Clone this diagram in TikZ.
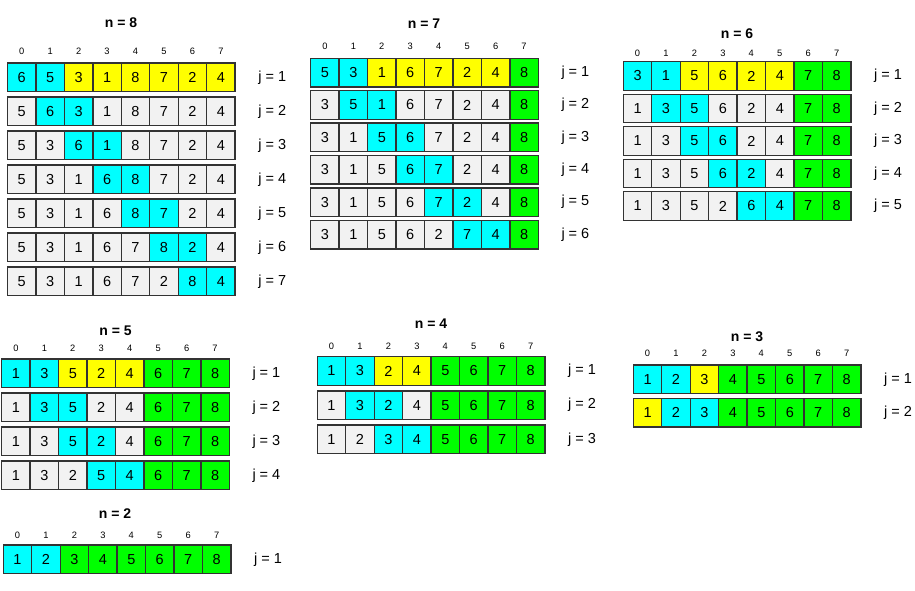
\documentclass[tikz,border=0pt]{standalone}
\usepackage{fontspec}
\setmainfont{Liberation Sans}
\usepackage{tikz}
\usetikzlibrary{positioning,calc}
\definecolor{swapcolor}{RGB}{0,255,255}
\definecolor{restcolor}{RGB}{255,255,0}
\definecolor{donecolor}{RGB}{0,255,0}
\definecolor{idlecolor}{RGB}{242,242,242}

% one row of the array: name, j, left x, top y, value/colour list
\newcommand{\cellrow}[5]{%
  \foreach \v/\col [count=\i from 0] in {#5}
    \node[cell, fill=\col] (#1-\i) at ({#3+\i*28.45},{#4}) {\v};
  \foreach \i in {0,...,7}
    \draw[cellline] (#1-\i.north west) rectangle (#1-\i.south east);
  \node[jlab, right=23pt of #1-7] (#1-j) {j = #2};
}
% index numbers above the first row of a block
\newcommand{\cellindex}[2]{%
  \foreach \i in {0,...,7}
    \node[idx, above=#2 of #1-\i] (#1-i\i) {\i};
}

\begin{document}
\begin{tikzpicture}[
    x=1pt, y=-1pt,
    cell/.style={rectangle, anchor=north west,
      minimum width=28.45pt, minimum height=28.5pt, inner sep=0pt, outer sep=0pt,
      font=\fontsize{14.5}{16}\selectfont},
    cellline/.style={draw=black!80, line width=1.4pt},
    idx/.style={inner sep=0pt, font=\fontsize{9.3}{10}\selectfont},
    jlab/.style={inner sep=0pt, font=\fontsize{14.5}{16}\selectfont},
    title/.style={inner sep=0pt, font=\bfseries\fontsize{14}{16}\selectfont}
]
    \useasboundingbox (0,0) rectangle (915,590);

    % n = 8
    \node[title] (n8) at (121,23) {n = 8};
    \cellrow{n8r1}{1}{7.5}{63}{6/swapcolor,5/swapcolor,3/restcolor,1/restcolor,8/restcolor,7/restcolor,2/restcolor,4/restcolor}
    \cellrow{n8r2}{2}{7.5}{97}{5/idlecolor,6/swapcolor,3/swapcolor,1/idlecolor,8/idlecolor,7/idlecolor,2/idlecolor,4/idlecolor}
    \cellrow{n8r3}{3}{7.5}{131}{5/idlecolor,3/idlecolor,6/swapcolor,1/swapcolor,8/idlecolor,7/idlecolor,2/idlecolor,4/idlecolor}
    \cellrow{n8r4}{4}{7.5}{165}{5/idlecolor,3/idlecolor,1/idlecolor,6/swapcolor,8/swapcolor,7/idlecolor,2/idlecolor,4/idlecolor}
    \cellrow{n8r5}{5}{7.5}{199}{5/idlecolor,3/idlecolor,1/idlecolor,6/idlecolor,8/swapcolor,7/swapcolor,2/idlecolor,4/idlecolor}
    \cellrow{n8r6}{6}{7.5}{233}{5/idlecolor,3/idlecolor,1/idlecolor,6/idlecolor,7/idlecolor,8/swapcolor,2/swapcolor,4/idlecolor}
    \cellrow{n8r7}{7}{7.5}{267}{5/idlecolor,3/idlecolor,1/idlecolor,6/idlecolor,7/idlecolor,2/idlecolor,8/swapcolor,4/swapcolor}
    \cellindex{n8r1}{8pt}

    % n = 7
    \node[title] (n7) at (424,23.3) {n = 7};
    \cellrow{n7r1}{1}{310.7}{58.3}{5/swapcolor,3/swapcolor,1/restcolor,6/restcolor,7/restcolor,2/restcolor,4/restcolor,8/donecolor}
    \cellrow{n7r2}{2}{310.7}{90.7}{3/idlecolor,5/swapcolor,1/swapcolor,6/idlecolor,7/idlecolor,2/idlecolor,4/idlecolor,8/donecolor}
    \cellrow{n7r3}{3}{310.7}{123.1}{3/idlecolor,1/idlecolor,5/swapcolor,6/swapcolor,7/idlecolor,2/idlecolor,4/idlecolor,8/donecolor}
    \cellrow{n7r4}{4}{310.7}{155.5}{3/idlecolor,1/idlecolor,5/idlecolor,6/swapcolor,7/swapcolor,2/idlecolor,4/idlecolor,8/donecolor}
    \cellrow{n7r5}{5}{310.7}{187.9}{3/idlecolor,1/idlecolor,5/idlecolor,6/idlecolor,7/swapcolor,2/swapcolor,4/idlecolor,8/donecolor}
    \cellrow{n7r6}{6}{310.7}{220.3}{3/idlecolor,1/idlecolor,5/idlecolor,6/idlecolor,2/idlecolor,7/swapcolor,4/swapcolor,8/donecolor}
    \cellindex{n7r1}{8.2pt}

    % n = 6
    \node[title] (n6) at (737,34) {n = 6};
    \cellrow{n6r1}{1}{623.3}{61.7}{3/swapcolor,1/swapcolor,5/restcolor,6/restcolor,2/restcolor,4/restcolor,7/donecolor,8/donecolor}
    \cellrow{n6r2}{2}{623.3}{94.2}{1/idlecolor,3/swapcolor,5/swapcolor,6/idlecolor,2/idlecolor,4/idlecolor,7/donecolor,8/donecolor}
    \cellrow{n6r3}{3}{623.3}{126.7}{1/idlecolor,3/idlecolor,5/swapcolor,6/swapcolor,2/idlecolor,4/idlecolor,7/donecolor,8/donecolor}
    \cellrow{n6r4}{4}{623.3}{159.2}{1/idlecolor,3/idlecolor,5/idlecolor,6/swapcolor,2/swapcolor,4/idlecolor,7/donecolor,8/donecolor}
    \cellrow{n6r5}{5}{623.3}{191.7}{1/idlecolor,3/idlecolor,5/idlecolor,2/idlecolor,6/swapcolor,4/swapcolor,7/donecolor,8/donecolor}
    \cellindex{n6r1}{5pt}

    % n = 5
    \node[title] (n5) at (115.5,330.7) {n = 5};
    \cellrow{n5r1}{1}{1.7}{359}{1/swapcolor,3/swapcolor,5/restcolor,2/restcolor,4/restcolor,6/donecolor,7/donecolor,8/donecolor}
    \cellrow{n5r2}{2}{1.7}{393}{1/idlecolor,3/swapcolor,5/swapcolor,2/idlecolor,4/idlecolor,6/donecolor,7/donecolor,8/donecolor}
    \cellrow{n5r3}{3}{1.7}{427}{1/idlecolor,3/idlecolor,5/swapcolor,2/swapcolor,4/idlecolor,6/donecolor,7/donecolor,8/donecolor}
    \cellrow{n5r4}{4}{1.7}{461}{1/idlecolor,3/idlecolor,2/idlecolor,5/swapcolor,4/swapcolor,6/donecolor,7/donecolor,8/donecolor}
    \cellindex{n5r1}{7.3pt}

    % n = 4
    \node[title] (n4) at (431,324) {n = 4};
    \cellrow{n4r1}{1}{317.3}{356.7}{1/swapcolor,3/swapcolor,2/restcolor,4/restcolor,5/donecolor,6/donecolor,7/donecolor,8/donecolor}
    \cellrow{n4r2}{2}{317.3}{390.9}{1/idlecolor,3/swapcolor,2/swapcolor,4/idlecolor,5/donecolor,6/donecolor,7/donecolor,8/donecolor}
    \cellrow{n4r3}{3}{317.3}{425.1}{1/idlecolor,2/idlecolor,3/swapcolor,4/swapcolor,5/donecolor,6/donecolor,7/donecolor,8/donecolor}
    \cellindex{n4r1}{7.3pt}

    % n = 3
    \node[title] (n3) at (747,336.7) {n = 3};
    \cellrow{n3r1}{1}{633.3}{365}{1/swapcolor,2/swapcolor,3/restcolor,4/donecolor,5/donecolor,6/donecolor,7/donecolor,8/donecolor}
    \cellrow{n3r2}{2}{633.3}{398.5}{1/restcolor,2/swapcolor,3/swapcolor,4/donecolor,5/donecolor,6/donecolor,7/donecolor,8/donecolor}
    \cellindex{n3r1}{8.3pt}

    % n = 2
    \node[title] (n2) at (115,514) {n = 2};
    \cellrow{n2r1}{1}{3.3}{545}{1/swapcolor,2/swapcolor,3/donecolor,4/donecolor,5/donecolor,6/donecolor,7/donecolor,8/donecolor}
    \cellindex{n2r1}{6pt}
\end{tikzpicture}
\end{document}
